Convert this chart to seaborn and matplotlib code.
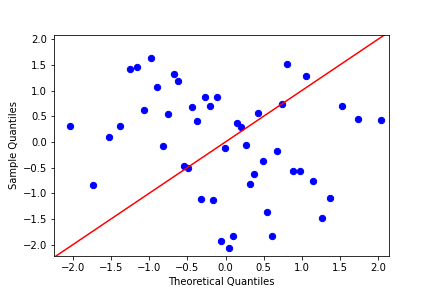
import matplotlib
matplotlib.use("Agg")
import matplotlib.pyplot as plt
import seaborn as sns

# theoretical quantiles (x) and sample quantiles (y)
theoretical = [-2.04, -1.74, -1.53, -1.39, -1.26, -1.16, -1.07, -0.98, -0.90, -0.82,
               -0.75, -0.67, -0.62, -0.55, -0.49, -0.44, -0.37, -0.32, -0.27, -0.21,
               -0.16, -0.11, -0.06, -0.01, 0.05, 0.10, 0.15, 0.20, 0.27, 0.32,
               0.37, 0.42, 0.49, 0.54, 0.61, 0.67, 0.74, 0.81, 0.88, 0.97,
               1.05, 1.15, 1.26, 1.37, 1.53, 1.73, 2.04]
sample = [0.30, -0.84, 0.10, 0.30, 1.42, 1.46, 0.62, 1.64, 1.06, -0.08,
          0.54, 1.32, 1.18, -0.48, -0.50, 0.68, 0.40, -1.12, 0.88, 0.70,
          -1.14, 0.88, -1.94, -0.12, -2.06, -1.84, 0.36, 0.28, -0.06, -0.82,
          -0.62, 0.56, -0.38, -1.36, -1.84, -0.18, 0.74, 1.52, -0.56, -0.56,
          1.28, -0.76, -1.48, -1.10, 0.70, 0.44, 0.42]

fig, ax = plt.subplots(figsize=(6, 4), dpi=72)
sns.scatterplot(x=theoretical, y=sample, color="blue", edgecolor="blue",
                s=40, linewidth=1, ax=ax)

xlims = (-2.25, 2.14)
ylims = (-2.23, 2.09)
# 45-degree reference line across the axes
ax.plot(xlims, xlims, color="red")
ax.set_xlim(xlims)
ax.set_ylim(ylims)

ax.set_xlabel("Theoretical Quantiles")
ax.set_ylabel("Sample Quantiles")
fig.savefig("out.png", dpi=72)
